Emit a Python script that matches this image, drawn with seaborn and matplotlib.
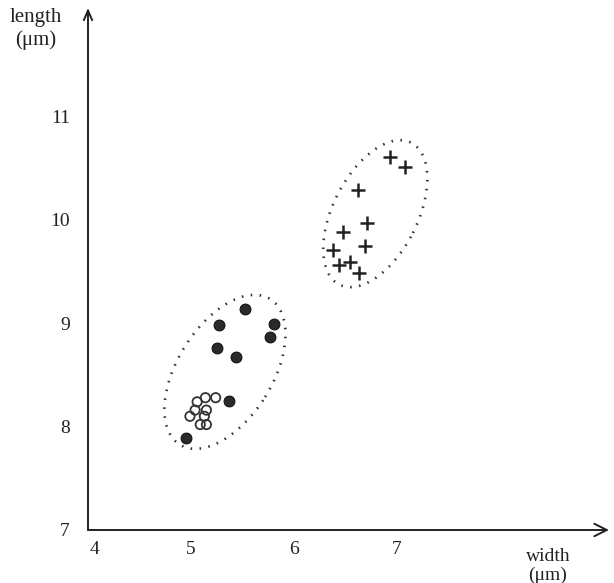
import numpy as np
import pandas as pd
import matplotlib
matplotlib.use('Agg')
import matplotlib.pyplot as plt
import matplotlib.transforms as mtransforms
import seaborn as sns
from matplotlib.patches import Ellipse

# ===================== 数据：宽度 / 长度 (µm) =====================
filled_w = [5.27, 5.52, 5.25, 5.44, 5.81, 5.77, 5.37, 4.95]
filled_l = [8.98, 9.14, 8.76, 8.67, 8.99, 8.87, 8.25, 7.89]

open_w = [5.14, 5.24, 5.06, 5.04, 5.15, 4.99, 5.13, 5.09, 5.15]
open_l = [8.28, 8.28, 8.24, 8.16, 8.16, 8.10, 8.10, 8.02, 8.02]

plus_w = [6.93, 7.08, 6.62, 6.71, 6.48, 6.69, 6.38, 6.44, 6.54, 6.63]
plus_l = [10.61, 10.51, 10.29, 9.97, 9.88, 9.75, 9.71, 9.56, 9.59, 9.49]

x_ticks = [4, 5, 6, 7]
y_ticks = [7, 8, 9, 10, 11]

# ===================== 样式 =====================
sns.set_style('white')
plt.rcParams['font.family'] = ['Liberation Serif', 'DejaVu Serif']

fig = plt.figure(figsize=(6.14, 5.83), dpi=100)
ax = fig.add_axes([88 / 614, 53 / 583, 521 / 614, 522 / 583])

df_filled = pd.DataFrame({'width': filled_w, 'length': filled_l})
df_open = pd.DataFrame({'width': open_w, 'length': open_l})
df_plus = pd.DataFrame({'width': plus_w, 'length': plus_l})

sns.scatterplot(data=df_filled, x='width', y='length', ax=ax, s=60,
                color='#2a2a2a', edgecolor='#111111', linewidth=0.8, zorder=3)
sns.scatterplot(data=df_open, x='width', y='length', ax=ax, s=45,
                facecolor='none', edgecolor='#333333', linewidth=1.3, zorder=3)
sns.scatterplot(data=df_plus, x='width', y='length', ax=ax, marker='+', s=110,
                color='#222222', linewidth=1.8, zorder=3)

# 虚线椭圆
for c, w, h, a in [((5.33, 8.53), 1.66, 0.92, 58), ((6.79, 10.06), 1.54, 0.82, 63)]:
    ax.add_patch(Ellipse(c, w, h, angle=a, fill=False, edgecolor='#333333',
                         linewidth=1.9, linestyle=(0, (0.6, 2.8))))

ax.set_xlim(4, 9.06)
ax.set_ylim(7, 12.05)
for s in ax.spines.values():
    s.set_visible(False)

# 坐标轴箭头
ax.annotate('', xy=(9.06, 7), xytext=(4, 7), annotation_clip=False,
            arrowprops=dict(arrowstyle='->,head_length=0.9,head_width=0.45',
                            color='#222222', lw=1.4, shrinkA=0, shrinkB=0))
ax.annotate('', xy=(4, 12.05), xytext=(4, 7), annotation_clip=False,
            arrowprops=dict(arrowstyle='->,head_length=0.7,head_width=0.3',
                            color='#222222', lw=1.4, shrinkA=0, shrinkB=0))

ax.set_xticks(x_ticks)
ax.set_yticks(y_ticks)
ax.tick_params(axis='both', direction='in', length=5, width=1, color='#333333',
               labelsize=14, labelcolor='#222222')
ax.tick_params(axis='x', pad=8)
ax.tick_params(axis='y', pad=13)
ax.set_xlabel('')
ax.set_ylabel('')

# "4" 稍微右移，离开原点
lbl4 = ax.get_xticklabels()[0]
lbl4.set_transform(lbl4.get_transform() +
                   mtransforms.ScaledTranslation(7 / 100, 0, fig.dpi_scale_trans))

fig.text(36 / 614, 1 - 8 / 583, 'length\n(μm)', ha='center', va='top',
         fontsize=15, color='#222222', linespacing=1.2)
fig.text(548 / 614, 1 - 548 / 583, 'width\n(μm)', ha='center', va='top',
         fontsize=14, color='#222222', linespacing=1.1)

ax.grid(False)
fig.savefig('out.png', dpi=100)
